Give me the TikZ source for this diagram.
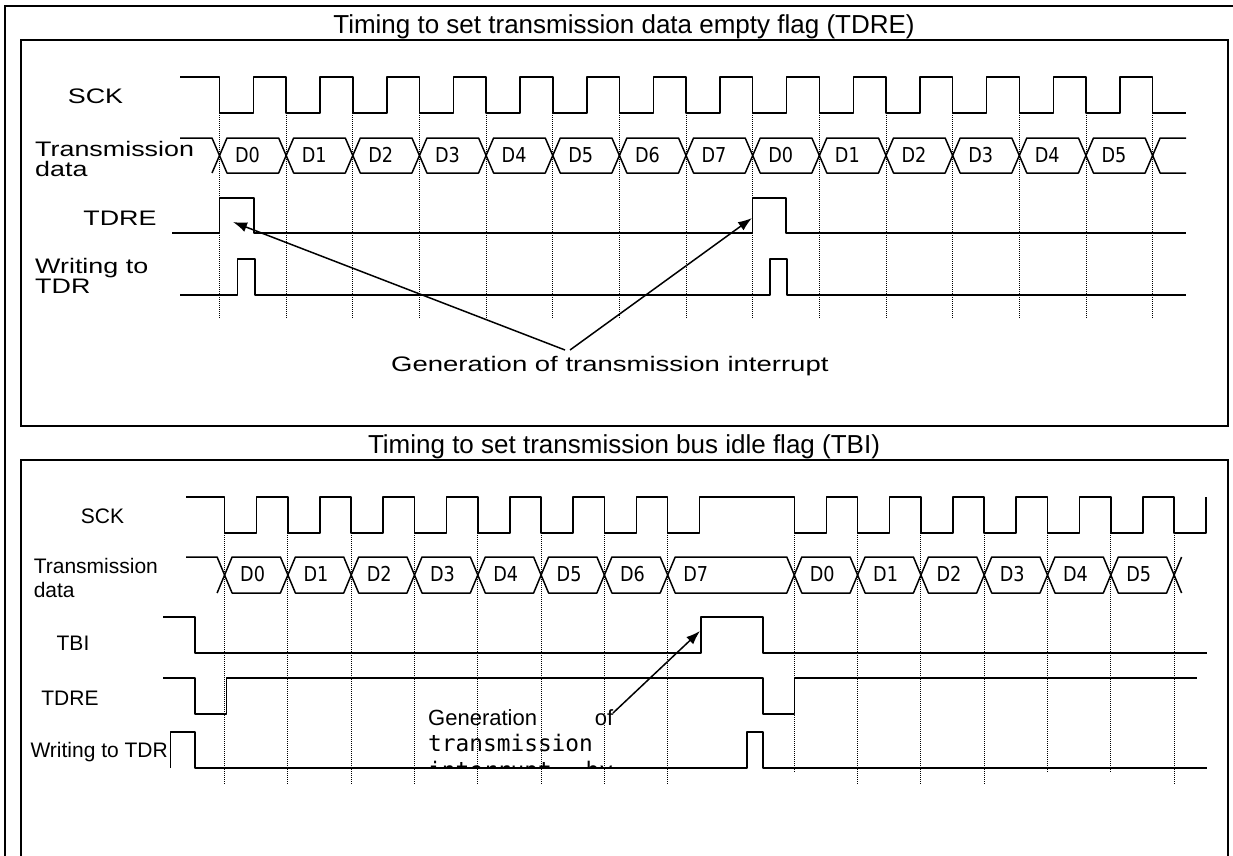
\documentclass[tikz,border=0pt]{standalone}
\usepackage{fontspec}
\setmainfont{Liberation Sans}
\newfontfamily\monofont{DejaVu Sans Mono}
\newfontfamily\dfont{DejaVu Sans}
\usetikzlibrary{arrows.meta}
\begin{document}
\begin{tikzpicture}[x={(1pt,0pt)},y={(0pt,-1pt)},
  sig/.style={line width=1.5pt, line join=round},
  frame/.style={line width=2pt},
  gridline/.style={line width=0.9pt, dash pattern=on 1pt off 1pt},
  arr/.style={line width=1.5pt, -{Latex[length=14pt,width=10pt]}},
  lbl/.style={inner sep=0pt, font=\fontsize{21}{24}\selectfont},
  dlbl/.style={inner sep=0pt, anchor=base, font=\fontsize{20.5}{24}\dfont},
  ttl/.style={inner sep=0pt, anchor=base, font=\fontsize{26}{30}\selectfont}]
\path[use as bounding box] (0,0) rectangle (1233,855);
\clip (0,0) rectangle (1233,855);
% frames
\draw[frame] (1245,6) -- (5,6) -- (5,870);
\draw[frame] (20.5,40) rectangle (1228,426);
\draw[frame] (20.5,870) -- (20.5,460) -- (1228,460) -- (1228,870);
% titles
\node[ttl] (t1) at (624,33.3) {Timing to set transmission data empty flag (TDRE)};
\node[ttl] (t2) at (624,453) {Timing to set transmission bus idle flag (TBI)};

%% ---------------- top panel ----------------
\def\tf{219.5}\def\tp{66.65}
% labels (stretched)
\node[lbl,anchor=base] (lsck1) at (95.5,103) {\scalebox{1.28}[1]{SCK}};
\node[lbl,anchor=base west] (ltd1a) at (35,156.5) {\scalebox{1.28}[1]{Transmission}};
\node[lbl,anchor=base west] (ltd1b) at (35,176) {\scalebox{1.28}[1]{data}};
\node[lbl,anchor=base] (ltdre1) at (120,225) {\scalebox{1.28}[1]{TDRE}};
\node[lbl,anchor=base west] (lw1a) at (35,273) {\scalebox{1.28}[1]{Writing to}};
\node[lbl,anchor=base west] (lw1b) at (35,293) {\scalebox{1.28}[1]{TDR}};
% dotted guides
\foreach \k in {0,...,14} \draw[gridline] ({\tf+\tp*\k},113) -- ({\tf+\tp*\k},318);
% SCK
\draw[sig] (180,77) foreach \k in {0,...,13} { -- ({\tf+\tp*\k},77) -- ({\tf+\tp*\k},113) -- ({\tf+\tp*\k+34},113) -- ({\tf+\tp*\k+34},77) } -- (1152.6,77) -- (1152.6,113) -- (1186,113);
% data
\draw[sig] (180,138) -- ({\tf-7.5},138) -- (\tf,155.5) -- ({\tf-7.5},173);
\foreach \k/\lab in {0/0,1/1,2/2,3/3,4/4,5/5,6/6,7/7,8/0,9/1,10/2,11/3,12/4,13/5} {
  \draw[sig] ({\tf+\tp*\k},155.5) -- ({\tf+\tp*\k+7.5},138) -- ({\tf+\tp*(\k+1)-7.5},138) -- ({\tf+\tp*(\k+1)},155.5) -- ({\tf+\tp*(\k+1)-7.5},173) -- ({\tf+\tp*\k+7.5},173) -- cycle;
  \node[dlbl] (td\k) at ({\tf+\tp*\k+28},162.5) {\scalebox{0.86}[1]{D\lab}};
}
\draw[sig] (1152.6,155.5) -- (1160.1,138) -- (1186,138);
\draw[sig] (1152.6,155.5) -- (1160.1,173) -- (1186,173);
% TDRE
\draw[sig] (172,233) -- (219.5,233) -- (219.5,198) -- (254,198) -- (254,233) -- (752.7,233) -- (752.7,198) -- (786,198) -- (786,233) -- (1186,233);
% Writing to TDR
\draw[sig] (180,295) -- (237.5,295) -- (237.5,259) -- (255,259) -- (255,295) -- (770,295) -- (770,259) -- (787,259) -- (787,295) -- (1186,295);
% interrupt label and arrows
\node[lbl,anchor=base west] (gen1) at (391,371.6) {\scalebox{1.31}[1]{Generation of transmission interrupt}};
\coordinate (gs1) at (565,350);
\coordinate (gs2) at (570,350);
\coordinate (ta1) at (233,222);
\coordinate (ta2) at (752,218);
\draw[arr] (gs1) -- (ta1);
\draw[arr] (gs2) -- (ta2);

%% ---------------- bottom panel ----------------
\node[lbl,anchor=base] (lsck2) at (102.5,523) {SCK};
\node[lbl,anchor=base west] (ltd2a) at (33.6,573) {Transmission};
\node[lbl,anchor=base west] (ltd2b) at (33.6,597) {data};
\node[lbl,anchor=base] (ltbi) at (73,650) {TBI};
\node[lbl,anchor=base] (ltdre2) at (70,705) {TDRE};
\node[lbl,anchor=base east] (lw2) at (168,757) {Writing to TDR};
% dotted guides
\foreach \x/\e in {224.6/785,287.9/785,351.2/785,414.5/785,477.8/785,541.1/785,604.4/785,667.7/785,794.3/773,857.6/785,920.9/785,984.2/785,1047.5/773,1110.8/773,1174.1/785}
  \draw[gridline] (\x,533) -- (\x,\e);
% SCK
\draw[sig] (186,497) foreach \f in {224.6,287.9,351.2,414.5,477.8,541.1,604.4,667.7,794.3,857.6,920.9,984.2,1047.5,1110.8,1174.1} { -- (\f,497) -- (\f,533) -- ({\f+32},533) -- ({\f+32},497) };
% data
\draw[sig] (186,557) -- (217.1,557) -- (224.6,575) -- (217.1,593);
\foreach \a/\b/\lab [count=\i] in {224.6/287.9/0,287.9/351.2/1,351.2/414.5/2,414.5/477.8/3,477.8/541.1/4,541.1/604.4/5,604.4/667.7/6,667.7/794.3/7,794.3/857.6/0,857.6/920.9/1,920.9/984.2/2,984.2/1047.5/3,1047.5/1110.8/4,1110.8/1174.1/5} {
  \draw[sig] (\a,575) -- ({\a+7.5},557) -- ({\b-7.5},557) -- (\b,575) -- ({\b-7.5},593) -- ({\a+7.5},593) -- cycle;
  \node[dlbl] (bd\i) at ({\a+28},581.5) {\scalebox{0.86}[1]{D\lab}};
}
\draw[sig] (1174.1,575) -- (1181.6,557);
\draw[sig] (1174.1,575) -- (1181.6,593);
% TBI
\draw[sig] (163,617) -- (195,617) -- (195,653) -- (701,653) -- (701,617) -- (763,617) -- (763,653) -- (1207,653);
% TDRE
\draw[sig] (163,678) -- (195,678) -- (195,714) -- (226.5,714) -- (226.5,678) -- (763,678) -- (763,714) -- (794.3,714) -- (794.3,678) -- (1197,678);
% Writing to TDR
\draw[sig] (170.7,768) -- (170.7,732) -- (195,732) -- (195,768) -- (747,768) -- (747,732) -- (763,732) -- (763,768) -- (1207,768);
% clipped text box
\begin{scope}
\clip (420,690) rectangle (650,767.5);
\node[inner sep=0pt,anchor=base west,font=\fontsize{22}{26}\selectfont] (gb1) at (428,725) {\makebox[185pt][s]{Generation\hfill of}};
\node[inner sep=0pt,anchor=base west,font=\fontsize{22.8}{26}\monofont] (gb2) at (428,751.7) {transmission};
\node[inner sep=0pt,anchor=base west,font=\fontsize{22.8}{26}\monofont] (gb3) at (428,778.4) {\makebox[185pt][s]{interrupt\hfill by}};
\end{scope}
\coordinate (bs) at (613,713);
\coordinate (ba) at (700,631);
\draw[arr] (bs) -- (ba);
\end{tikzpicture}
\end{document}
